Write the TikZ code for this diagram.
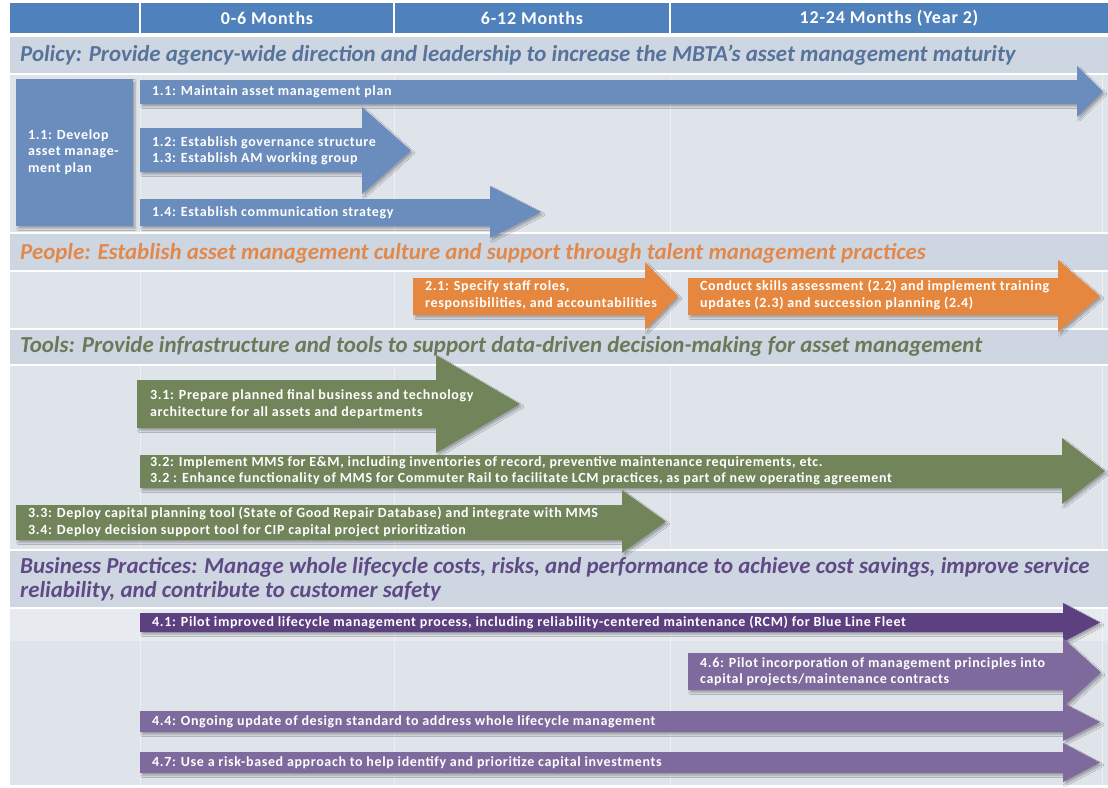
\documentclass[tikz,border=0pt]{standalone}
\usepackage{fontspec}
\setmainfont{Carlito}
\newfontfamily\spacedfont[LetterSpace=4.5]{Carlito}
\usetikzlibrary{shadows.blur}

\definecolor{headblue}{HTML}{4F81BD}
\definecolor{bandgray}{HTML}{CED6E2}
\definecolor{bodygray}{HTML}{DFE3EA}
\definecolor{rowlight}{HTML}{E7EAEF}
\definecolor{polblue}{HTML}{6A8DBD}
\definecolor{poltext}{HTML}{56739B}
\definecolor{peporange}{HTML}{E5873E}
\definecolor{peptext}{HTML}{E2884A}
\definecolor{toolgreen}{HTML}{71845A}
\definecolor{tooltext}{HTML}{6A7A58}
\definecolor{bpdark}{HTML}{5C4080}
\definecolor{bpmid}{HTML}{7E6A9C}
\definecolor{bptext}{HTML}{5F4A86}

% block arrow: colour, left x, head base x, tip x, body top, body bottom, head top, head bottom
\newcommand\planarrow[8]{%
  \fill[#1,arrowshadow] (#2,#5) -- (#3,#5) -- (#3,#7) -- (#4,{(#7+#8)/2})
    -- (#3,#8) -- (#3,#6) -- (#2,#6) -- cycle;}

\begin{document}
\begin{tikzpicture}[x=1pt,y=-1pt,
  arrowshadow/.style={blur shadow={shadow xshift=2pt,shadow yshift=-2.5pt,
      shadow blur radius=1.8pt,shadow opacity=30}},
  headtxt/.style={text=white,font=\spacedfont\bfseries\fontsize{18}{20}\selectfont,inner sep=0},
  bandtxt/.style={anchor=west,inner sep=0,align=left,
      font=\bfseries\itshape\fontsize{22.9}{24}\selectfont},
  lbl/.style={anchor=west,inner sep=0,align=left,text=white,
      font=\spacedfont\bfseries\fontsize{14}{16.5}\selectfont},
  coldiv/.style={white,opacity=0.45,line width=1pt}]

\useasboundingbox (0,0) rectangle (1108,787);
\fill[white] (0,0) rectangle (1108,787);

% ---- column header ----
\fill[headblue] (10,3) rectangle (1108,33);
\foreach \cx in {140,394,670} \draw[white,line width=1.2pt] (\cx,3) -- (\cx,33);
\node[headtxt] (h1) at (267,18) {0-6 Months};
\node[headtxt] (h2) at (532,18) {6-12 Months};
\node[headtxt] (h3) at (889,18) {12-24 Months (Year 2)};

% ---- section bands and bodies ----
\fill[bandgray] (10,37) rectangle (1108,73);
\fill[bodygray] (10,75) rectangle (1108,232);
\fill[bandgray] (10,234) rectangle (1108,270);
\fill[bodygray] (10,272) rectangle (1108,328);
\fill[bandgray] (10,330) rectangle (1108,364);
\fill[bodygray] (10,366) rectangle (1108,549);
\fill[bandgray] (10,551) rectangle (1108,607);
\fill[bodygray] (10,609) rectangle (1108,785);
\fill[rowlight] (10,609) rectangle (1108,641);

% faint column lines inside the bodies
\foreach \ya/\yb in {75/232,272/328,366/549,609/785}
  \foreach \cx in {140,394,670} \draw[coldiv] (\cx,\ya) -- (\cx,\yb);
\foreach \ya/\yb in {75/232,272/328,366/549,609/785}
  \draw[coldiv] (1102,\ya) -- (1102,\yb);

% ---- section titles ----
\node[bandtxt,text=poltext] (s1) at (20,55)
  {Policy: Provide agency-wide direction and leadership to increase the MBTA’s asset management maturity};
\node[bandtxt,text=peptext] (s2) at (20,253)
  {People: Establish asset management culture and support through talent management practices};
\node[bandtxt,text=tooltext] (s3) at (20,346)
  {Tools: Provide infrastructure and tools to support data-driven decision-making for asset management};
\node[bandtxt,text=bptext] (s4) at (20,579)
  {Business Practices: Manage whole lifecycle costs, risks, and performance to achieve cost savings, improve service\\
   reliability, and contribute to customer safety};

% ---- Policy ----
\fill[polblue,arrowshadow] (16,79) rectangle (133,226);
\node[lbl] (p0) at (28,152)
  {1.1: Develop\\asset manage-\\ment plan};

\planarrow{polblue}{140}{1077}{1103}{80}{104}{66}{117}
\node[lbl] (p1) at (152,92) {1.1: Maintain asset management plan};

\planarrow{polblue}{140}{362}{411}{128}{172}{107}{194}
\node[lbl] (p2) at (152,151) {1.2: Establish governance structure\\1.3: Establish AM working group};

\planarrow{polblue}{140}{490}{541}{199}{226}{186}{238}
\node[lbl] (p4) at (152,213) {1.4: Establish communication strategy};

% ---- People ----
\planarrow{peporange}{413}{645}{678}{278}{315}{262}{330}
\node[lbl] (q1) at (425,295) {2.1: Specify staff roles,\\responsibilities, and accountabilities};

\planarrow{peporange}{688}{1058}{1100}{278}{315}{260}{332}
\node[lbl] (q2) at (700,295)
  {Conduct skills assessment (2.2) and implement training\\updates (2.3) and succession planning (2.4)};

% ---- Tools ----
\planarrow{toolgreen}{137}{436}{520}{380}{428}{355}{453}
\node[lbl] (r1) at (150,404)
  {3.1: Prepare planned final business and technology\\architecture for all assets and departments};

\planarrow{toolgreen}{140}{1062}{1105}{455}{488}{438}{504}
\node[lbl] (r2) at (150,471)
  {3.2: Implement MMS for E\&M, including inventories of record, preventive maintenance requirements, etc.\\
   3.2 : Enhance functionality of MMS for Commuter Rail to facilitate LCM practices, as part of new operating agreement};

\planarrow{toolgreen}{16}{622}{666}{505}{540}{490}{553}
\node[lbl] (r3) at (28,522)
  {3.3: Deploy capital planning tool (State of Good Repair Database) and integrate with MMS\\
   3.4: Deploy decision support tool for CIP capital project prioritization};

% ---- Business Practices ----
\planarrow{bpdark}{140}{1063}{1100}{613}{632}{603}{642}
\node[lbl] (b1) at (152,622)
  {4.1: Pilot improved lifecycle management process, including reliability-centered maintenance (RCM) for Blue Line Fleet};

\planarrow{bpmid}{688}{1063}{1101}{653}{690}{638}{707}
\node[lbl] (b6) at (700,672)
  {4.6: Pilot incorporation of management principles into\\capital projects/maintenance contracts};

\planarrow{bpmid}{140}{1063}{1100}{711}{732}{703}{741}
\node[lbl] (b4) at (152,722) {4.4: Ongoing update of design standard to address whole lifecycle management};

\planarrow{bpmid}{140}{1063}{1100}{752}{773}{743}{782}
\node[lbl] (b7) at (152,763) {4.7: Use a risk-based approach to help identify and prioritize capital investments};

\end{tikzpicture}
\end{document}
